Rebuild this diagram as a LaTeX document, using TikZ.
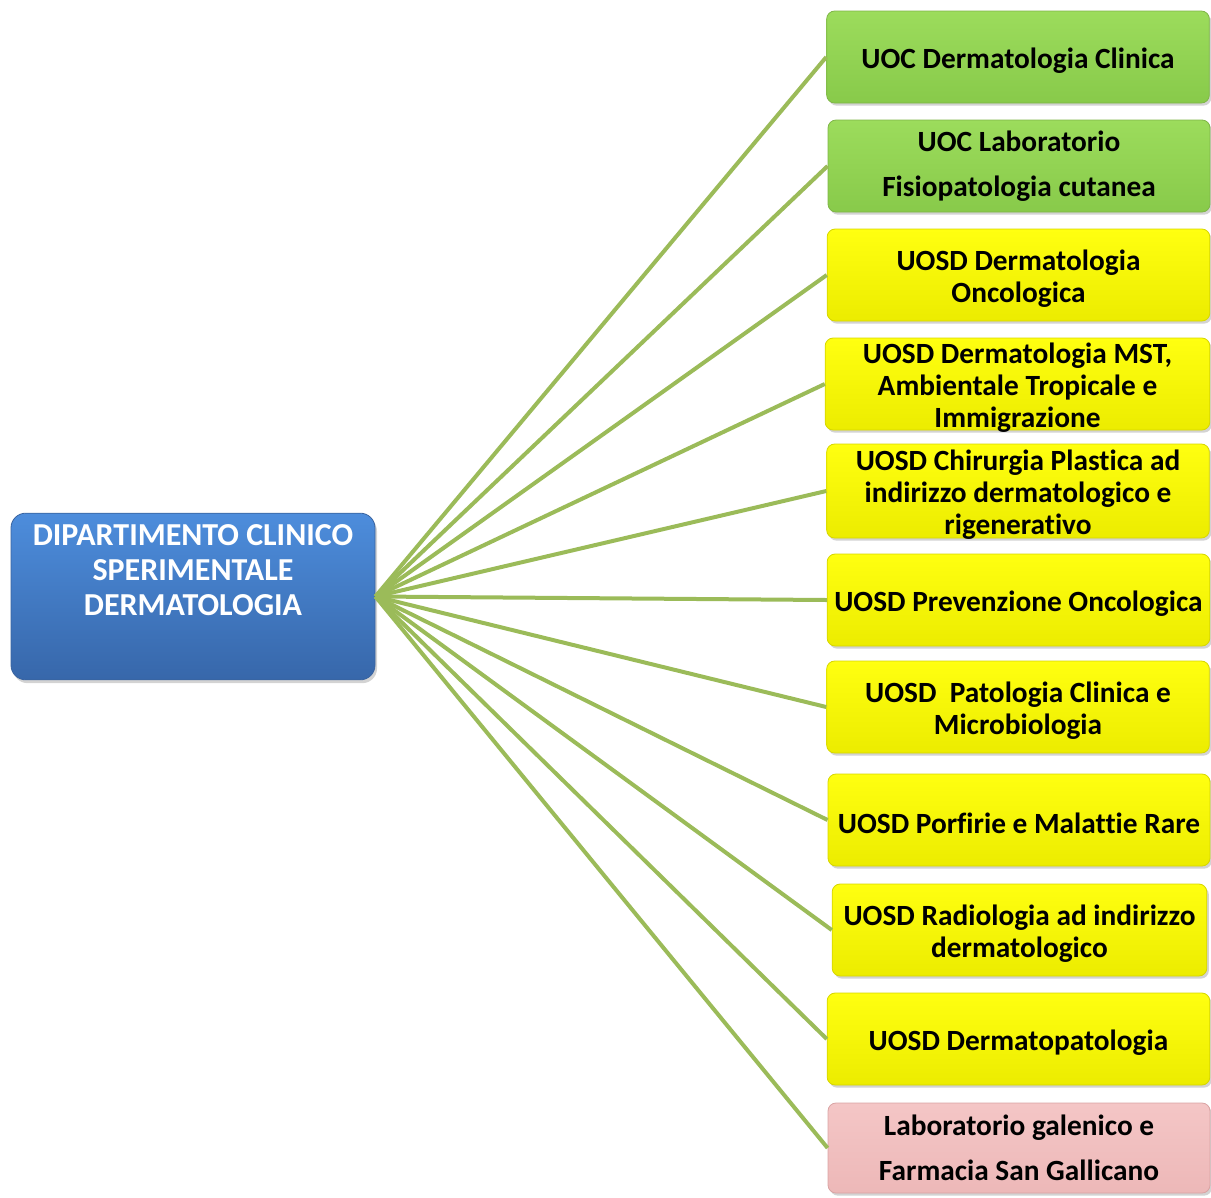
\documentclass[tikz,border=0pt]{standalone}
\usepackage{fontspec}
\setmainfont{Carlito}[Ligatures={NoCommon}]
\usetikzlibrary{shadows}
\newcommand{\tstrut}{\rule{0pt}{20.5pt}}
\definecolor{linegreen}{HTML}{9BBB59}
\definecolor{bluetop}{HTML}{4D8DDC}
\definecolor{bluebot}{HTML}{3767AA}
\definecolor{blueborder}{HTML}{3A64A0}
\definecolor{greentop}{HTML}{9CDC5C}
\definecolor{greenbot}{HTML}{88CA4A}
\definecolor{greenborder}{HTML}{7FB548}
\definecolor{yeltop}{HTML}{FFFF10}
\definecolor{yelbot}{HTML}{ECEC00}
\definecolor{yelborder}{HTML}{D6D600}
\definecolor{pinktop}{HTML}{F4C6C6}
\definecolor{pinkbot}{HTML}{EDB8B8}
\definecolor{pinkborder}{HTML}{D9A3A3}
\tikzset{
  unitbox/.style={rectangle, rounded corners=6pt, minimum width=287pt, minimum height=69pt,
    inner xsep=2pt, inner ysep=-6pt, align=center, text=black,
    font=\fontsize{22}{24}\selectfont\bfseries,
    drop shadow={shadow xshift=1.5pt, shadow yshift=-2pt, opacity=0.35}},
  greenbox/.style={unitbox, top color=greentop, bottom color=greenbot, draw=greenborder, line width=0.6pt},
  yelbox/.style={unitbox, top color=yeltop, bottom color=yelbot, draw=yelborder, line width=0.6pt},
  pinkbox/.style={unitbox, top color=pinktop, bottom color=pinkbot, draw=pinkborder, line width=0.6pt},
  deptbox/.style={rectangle, rounded corners=11pt, minimum width=273pt, minimum height=125pt,
    top color=bluetop, bottom color=bluebot, draw=blueborder, line width=0.6pt,
    drop shadow={shadow xshift=1.5pt, shadow yshift=-2.5pt, opacity=0.35}},
  depttext/.style={align=center, text=white, font=\fontsize{24}{26.25}\selectfont\bfseries},
  conn/.style={draw=linegreen, line width=3pt}
}
\begin{document}
\begin{tikzpicture}[x=0.75pt, y=-0.75pt]
\useasboundingbox (0,0) rectangle (1211,1197);
\node[deptbox] (dept) at (193,596.5) {};
\node[depttext] (depttxt) at (193,570) {DIPARTIMENTO CLINICO\\SPERIMENTALE\\DERMATOLOGIA};

\node[greenbox] (b1) at (1018,57) {\tstrut UOC Dermatologia Clinica};
\node[greenbox, font=\fontsize{22}{34}\selectfont\bfseries, minimum width=286.5pt] (b2) at (1019,166) {UOC Laboratorio\\Fisiopatologia cutanea};
\node[yelbox] (b3) at (1018.5,275) {\tstrut UOSD Dermatologia\\Oncologica};
\node[yelbox, minimum width=288.5pt] (b4) at (1017.5,384) {\tstrut UOSD Dermatologia MST,\\Ambientale Tropicale e\\Immigrazione};
\node[yelbox, minimum height=70.5pt] (b5) at (1018,491) {\tstrut UOSD Chirurgia Plastica ad\\indirizzo dermatologico e\\rigenerativo};
\node[yelbox] (b6) at (1018.5,600) {\tstrut UOSD Prevenzione Oncologica};
\node[yelbox] (b7) at (1018,707) {\tstrut UOSD\ \ Patologia Clinica e\\Microbiologia};
\node[yelbox, minimum width=286.5pt] (b8) at (1019,820) {\tstrut UOSD Porfirie e Malattie Rare};
\node[yelbox, minimum width=281pt] (b9) at (1019.5,930) {\tstrut UOSD Radiologia ad indirizzo\\dermatologico};
\node[yelbox] (b10) at (1018.5,1039) {\tstrut UOSD Dermatopatologia};
\node[pinkbox, font=\fontsize{22}{34}\selectfont\bfseries, minimum width=286.5pt, minimum height=67.5pt] (b11) at (1019,1148) {Laboratorio galenico e\\Farmacia San Gallicano};

\foreach \b in {b1,b2,b3,b4,b5,b6,b7,b8,b9,b10,b11}
  \draw[conn] (dept.east) -- (\b.west);
\end{tikzpicture}
\end{document}
